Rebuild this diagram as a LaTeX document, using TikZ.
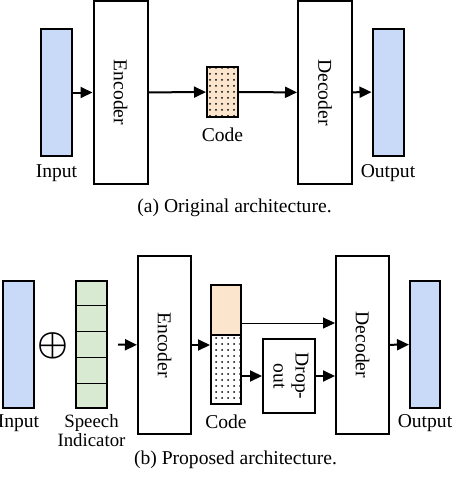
\documentclass[tikz,border=0pt]{standalone}
\usepackage{fontspec}
\setmainfont{Liberation Serif}
\usepackage{amsmath,amssymb}
\usepackage{xcolor}
\usepackage{tikz}
\usetikzlibrary{arrows.meta,positioning,calc,patterns}

\definecolor{dataBlue}{HTML}{C9DAF8}
\definecolor{codeOrange}{HTML}{FCE5CD}
\definecolor{tagGreen}{HTML}{D9EAD3}

\begin{document}
\begin{tikzpicture}[x=0.5pt, y=-0.5pt,
  font=\fontsize{9.8}{11}\selectfont,
  data/.style={rectangle, draw=black, line width=1pt, fill=dataBlue, inner sep=0pt, minimum width=15.5pt, minimum height=63.5pt},
  block/.style={rectangle, draw=black, line width=1pt, fill=white, inner sep=0pt, minimum width=27pt, minimum height=91.5pt},
  codebox/.style={rectangle, draw=black, line width=1pt, inner sep=0pt, minimum width=15.5pt},
  dotted fill/.style={postaction={pattern=dots}},
  arrow/.style={-{Triangle[length=6pt,width=5.5pt]}, line width=1pt},
  thin arrow/.style={-{Triangle[length=6pt,width=5.5pt]}, line width=0.5pt},
  lbl/.style={align=center, inner sep=0pt}
]
\useasboundingbox (0,0) rectangle (452,482);

% (a) Original architecture
\node[data] (in1) at (56.5,92.5) {};
\node[block] (enc1) at (120.5,92.5) {\rotatebox{-90}{Encoder}};
\node[codebox, fill=codeOrange, dotted fill, minimum height=25pt] (code1) at (222.5,92) {};
\node[block] (dec1) at (325,92.5) {\rotatebox{-90}{Decoder}};
\node[data] (out1) at (388,92) {};

\node[lbl] (in1lbl) at (56.5,173) {Input};
\node[lbl] (code1lbl) at (222.5,135) {Code};
\node[lbl] (out1lbl) at (388,173) {Output};

\draw[arrow] (in1) -- (enc1);
\draw[arrow] (enc1) -- (code1);
\draw[arrow] (code1) -- (dec1);
\draw[arrow] (dec1) -- (out1);

\node[lbl] (capa) at (234.5,208) {(a) Original architecture.};

% (b) Proposed architecture
\node[data] (in2) at (18.5,344.5) {};
\node (plus) at (53,346) {\LARGE$\boldsymbol{\oplus}$};
\node[data, fill=tagGreen] (spk) at (91.5,344.5) {};
\foreach \i in {1,...,4}
  \draw[line width=0.6pt] ($(spk.north west)!\i/5!(spk.south west)$) -- ($(spk.north east)!\i/5!(spk.south east)$);
\node[block, minimum height=89pt, minimum width=26.5pt] (enc2) at (164.5,345) {\rotatebox{-90}{Encoder}};

\node[codebox, fill=codeOrange, minimum height=25pt, minimum width=15pt] (codehi) at (226,310) {};
\node[codebox, fill=white, dotted fill, minimum height=34.5pt, minimum width=15pt] (codelo) at (226,369.5) {};
\node[block, minimum width=26pt, minimum height=37pt] (drop) at (289,376) {\rotatebox{-90}{\begin{tabular}{@{}c@{}}Drop-\\out\end{tabular}}};
\node[block, minimum height=89pt, minimum width=26.5pt] (dec2) at (362.5,345) {\rotatebox{-90}{Decoder}};
\node[data, minimum width=15pt] (out2) at (425,344.5) {};

\node[lbl] (in2lbl) at (18.5,423) {Input};
\node[lbl, font=\fontsize{9.4}{8}\selectfont] (spklbl) at (91.5,431) {Speech\\Indicator};
\node[lbl] (code2lbl) at (226,422) {Code};
\node[lbl] (out2lbl) at (425,423) {Output};

% Connections
\draw[arrow, shorten <=5pt] (spk) -- (enc2);
\draw[arrow] (enc2.east) -- (enc2.east -| codelo.west);
\draw[thin arrow] ([yshift=-6.5pt]codehi.east) -- ([yshift=-6.5pt]codehi.east -| dec2.west);
\draw[arrow] (drop.west -| codelo.east) -- (drop.west);
\draw[arrow] (drop.east) -- (drop.east -| dec2.west);
\draw[arrow] (dec2) -- (out2);

\node[lbl] (capb) at (235.5,460) {(b) Proposed architecture.};

\end{tikzpicture}
\end{document}
